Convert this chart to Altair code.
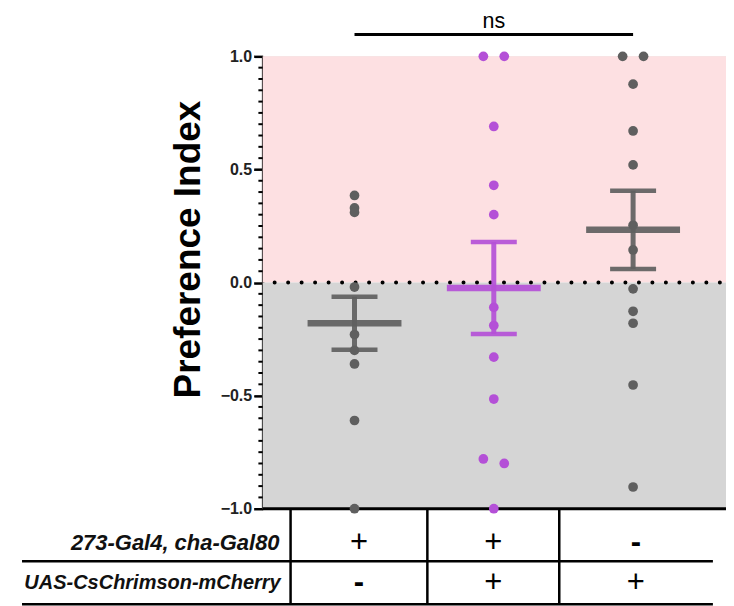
import altair as alt
import pandas as pd

# ---------------- data ----------------
group_pos = [1, 2, 3]
group_key = ["ctrl_gal4", "exp", "ctrl_uas"]
group_colors = ["#5f5f5f", "#b450d7", "#5f5f5f"]

vals_g1 = [0.385, 0.33, 0.31, -0.02, -0.23, -0.30, -0.36, -0.61, -1.0]
offs_g1 = [0, 0, 0, 0, 0, 0, 0, 0, 0]
vals_g2 = [1.0, 1.0, 0.69, 0.43, 0.30, -0.11, -0.19, -0.33, -0.515, -0.78, -0.80, -1.0]
offs_g2 = [-0.075, 0.075, 0, 0, 0, 0, 0, 0, 0, -0.075, 0.075, 0]
vals_g3 = [1.0, 1.0, 0.877, 0.67, 0.52, 0.253, 0.144, -0.028, -0.127, -0.18, -0.453, -0.904]
offs_g3 = [-0.075, 0.075, 0, 0, 0, 0, 0, 0, 0, 0, 0, 0]

means = [-0.18, -0.024, 0.233]
sems = [0.117, 0.203, 0.173]

y_ticks = [-1.0, -0.5, 0.0, 0.5, 1.0]
minor_ticks = [round(-1 + 0.05 * i, 2) for i in range(41) if i % 10 != 0]

row_labels = ["273-Gal4, cha-Gal80", "UAS-CsChrimson-mCherry"]
row_signs = [["+", "+", "-"], ["-", "+", "+"]]

ns_label = "ns"

# ---------------- layout helpers (data units) ----------------
X_MIN, X_MAX = 0.3405, 3.667
Y_MIN, Y_MAX = -1.0, 1.0
row_y = [-1.152, -1.327]
col_centers = [1.032, 1.997, 3.02]
col_edges = [0.541, 1.523, 2.47]
table_left, table_right = -1.387, 3.573
table_mid, table_bottom = -1.232, -1.422
label_x = [0.462, 0.47]

FONT = "Liberation Sans"

xs = alt.Scale(domain=[X_MIN, X_MAX], nice=False, zero=False)
ys = alt.Scale(domain=[Y_MIN, Y_MAX], nice=False, zero=False)
cscale = alt.Scale(domain=group_key, range=group_colors)

Y_AXIS = alt.Axis(
    values=y_ticks, format=".1f", title="Preference Index",
    labelFont=FONT, labelFontSize=16, labelFontWeight="bold", labelColor="#222222",
    labelPadding=2, tickSize=9, tickWidth=2.5, tickColor="black",
    domainColor="black", domainWidth=2.5, grid=False,
    titleFont=FONT, titleFontSize=37, titleFontWeight="bold", titleColor="black",
    titleAngle=270, titleX=-63, titleY=193, titleAlign="center",
    titleBaseline="alphabetic",
)


def X(f):
    return alt.X(f, scale=xs, axis=None)


def Y(f):
    return alt.Y(f, scale=ys, axis=Y_AXIS)


# points
pts = []
for g, vals, offs in [(0, vals_g1, offs_g1), (1, vals_g2, offs_g2), (2, vals_g3, offs_g3)]:
    for v, o in zip(vals, offs):
        pts.append({"g": group_key[g], "x": group_pos[g] + o, "y": v})
pts_df = pd.DataFrame(pts)

stat_df = pd.DataFrame({"g": group_key, "x": group_pos, "mean": means, "sem": sems})

pos_df = pd.DataFrame({"x": [X_MIN], "x2": [X_MAX], "y": [0.0], "y2": [1.0]})
neg_df = pd.DataFrame({"x": [X_MIN], "x2": [X_MAX], "y": [-1.0], "y2": [0.0]})

bg_pos = alt.Chart(pos_df).mark_rect(color="#fde0e2").encode(
    x=X("x:Q"), x2="x2:Q", y=Y("y:Q"), y2="y2:Q")
bg_neg = alt.Chart(neg_df).mark_rect(color="#d5d5d5").encode(
    x=X("x:Q"), x2="x2:Q", y=Y("y:Q"), y2="y2:Q")

minor_df = pd.DataFrame({"y": minor_ticks, "x": 0.31, "x2": X_MIN})
minor = alt.Chart(minor_df).mark_rule(color="black", strokeWidth=2).encode(
    x=X("x:Q"), x2="x2:Q", y=Y("y:Q"))

zero_df = pd.DataFrame({"x": [X_MIN], "x2": [X_MAX], "y": [0.0]})
zero = alt.Chart(zero_df).mark_rule(
    color="black", strokeWidth=4, strokeCap="round", strokeDash=[0.01, 13.5], strokeDashOffset=1.5
).encode(x=X("x:Q"), x2="x2:Q", y=Y("y:Q"))

xaxis_df = pd.DataFrame({"x": [X_MIN], "x2": [X_MAX], "y": [Y_MIN]})
xaxis = alt.Chart(xaxis_df).mark_rule(color="black", strokeWidth=3).encode(
    x=X("x:Q"), x2="x2:Q", y=Y("y:Q"))

points = alt.Chart(pts_df).mark_circle(size=95, opacity=1).encode(
    x=X("x:Q"), y=Y("y:Q"),
    color=alt.Color("g:N", scale=cscale, legend=None),
)

base_stat = alt.Chart(stat_df).transform_calculate(
    lo="datum.mean - datum.sem", hi="datum.mean + datum.sem",
    cl="datum.x - 0.165", cr="datum.x + 0.165",
    ml="datum.x - 0.337", mr="datum.x + 0.337",
)
COL = alt.Color("g:N", scale=cscale, legend=None)
stem = base_stat.mark_rule(strokeWidth=5, opacity=0.92).encode(
    x=X("x:Q"), y=Y("lo:Q"), y2="hi:Q", color=COL)
cap_hi = base_stat.mark_rule(strokeWidth=4.5, opacity=0.92).encode(
    x=X("cl:Q"), x2="cr:Q", y=Y("hi:Q"), color=COL)
cap_lo = base_stat.mark_rule(strokeWidth=4.5, opacity=0.92).encode(
    x=X("cl:Q"), x2="cr:Q", y=Y("lo:Q"), color=COL)
mean_line = base_stat.mark_rule(strokeWidth=6.5, opacity=0.92).encode(
    x=X("ml:Q"), x2="mr:Q", y=Y("mean:Q"), color=COL)

# significance bracket
br_df = pd.DataFrame({"x": [group_pos[0]], "x2": [group_pos[2]], "y": [1.097]})
bracket = alt.Chart(br_df).mark_rule(color="black", strokeWidth=3).encode(
    x=X("x:Q"), x2="x2:Q", y=Y("y:Q"))
ns_df = pd.DataFrame({"x": [group_pos[1]], "y": [1.127], "t": [ns_label]})
ns_text = alt.Chart(ns_df).mark_text(
    font=FONT, fontSize=21.5, baseline="alphabetic", align="center", color="black"
).encode(x=X("x:Q"), y=Y("y:Q"), text="t:N")

# genotype table
hl_df = pd.DataFrame({"x": [table_left, table_left], "x2": [table_right, table_right],
                      "y": [table_mid, table_bottom]})
hlines = alt.Chart(hl_df).mark_rule(color="black", strokeWidth=2.5).encode(
    x=X("x:Q"), x2="x2:Q", y=Y("y:Q"))
vl_df = pd.DataFrame({"x": col_edges, "y": [Y_MIN] * 3, "y2": [table_bottom] * 3})
vlines = alt.Chart(vl_df).mark_rule(color="black", strokeWidth=2.5).encode(
    x=X("x:Q"), y=Y("y:Q"), y2="y2:Q")
lab_df = pd.DataFrame({"x": label_x, "y": row_y, "t": row_labels, "fs": [22, 20]})
labels = alt.Chart(lab_df).mark_text(
    font=FONT, fontWeight="bold", fontStyle="italic", align="right", baseline="middle", color="#111111"
).encode(
    x=X("x:Q"), y=Y("y:Q"), text="t:N",
    size=alt.Size("fs:Q", scale=None, legend=None),
)
sign_rows = []
for r, signs in enumerate(row_signs):
    for c, s in enumerate(signs):
        sign_rows.append({"x": col_centers[c], "y": row_y[r], "t": s})
sign_df = pd.DataFrame(sign_rows)
plus = alt.Chart(sign_df).transform_filter("datum.t == '+'").mark_text(
    font=FONT, fontSize=31, align="center", baseline="middle", color="black"
).encode(x=X("x:Q"), y=Y("y:Q"), text="t:N")
minus = alt.Chart(sign_df).transform_filter("datum.t == '-'").mark_text(
    font=FONT, fontSize=31, fontWeight="bold", align="center", baseline="middle", color="black"
).encode(x=X("x:Q"), y=Y("y:Q"), text="t:N")

chart = alt.layer(
    bg_pos, bg_neg, minor, zero, xaxis, points, stem, cap_hi, cap_lo, mean_line,
    bracket, ns_text, hlines, vlines, labels, plus, minus,
).properties(
    width=464, height=453,
    autosize=alt.AutoSizeParams(type="none"),
    padding={"left": 255, "top": 48, "right": 0, "bottom": 98},
).configure_view(stroke=None).configure(background="white")

chart.save("out.html", embed_options={"renderer": "svg", "actions": False})
